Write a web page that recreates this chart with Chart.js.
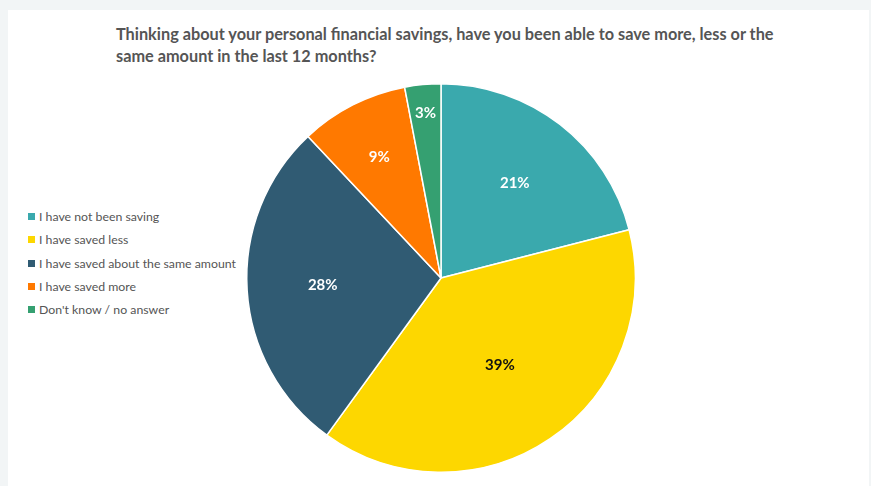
<!DOCTYPE html>
<html>
<head>
<meta charset="utf-8">
<script src="https://cdn.jsdelivr.net/npm/chart.js@4"></script>
<style>
    body { margin: 0; background: #f2f5f6; width: 871px; height: 486px; overflow: hidden; font-family: Lato, "Open Sans", sans-serif; }
    .card { position: absolute; left: 8px; top: 10px; width: 861px; height: 480px; background: #fff; }
    .title { position: absolute; left: 116px; top: 23px; width: 680px; font-size: 16.3px; font-weight: bold; color: #555; line-height: 22px; }
    .legend { position: absolute; left: 28px; top: 208px; font-size: 12.3px; color: #555; }
    .legend div { height: 23.3px; line-height: 18px; white-space: nowrap; }
    .legend span { display: inline-block; width: 7px; height: 7px; margin-right: 4px; vertical-align: 1px; }
    #chartWrap { position: absolute; left: 241px; top: 78px; width: 400px; height: 400px; }
</style>
</head>
<body>
<div class="card"></div>
<div class="title">Thinking about your personal financial savings, have you been able to save more, less or the same amount in the last 12 months?</div>
<div class="legend" id="legend"></div>
<div id="chartWrap"><canvas id="savingsChart"></canvas></div>
<script>
const categories = ['I have not been saving', 'I have saved less', 'I have saved about the same amount', 'I have saved more', "Don't know / no answer"];
const shares = [21, 39, 28, 9, 3];
const colors = ['#3aa9ad', '#fdd700', '#305b73', '#ff7900', '#35a071'];
const labelColors = ['#fff', '#111', '#fff', '#fff', '#fff'];
// how far out along the radius each percentage sits
const labelRadius = [0.62, 0.54, 0.61, 0.70, 0.85];

// Legend
const legend = document.getElementById('legend');
categories.forEach((name, i) => {
    legend.innerHTML += `<div><span style="background:${colors[i]}"></span>${name}</div>`;
});

// Percent labels inside the slices
const sliceLabels = {
    id: 'sliceLabels',
    afterDatasetsDraw(chart) {
        const ctx = chart.ctx;
        const meta = chart.getDatasetMeta(0);
        ctx.save();
        ctx.font = 'bold 15px Lato, "Open Sans", sans-serif';
        ctx.textAlign = 'center';
        ctx.textBaseline = 'middle';
        meta.data.forEach((arc, i) => {
            const mid = (arc.startAngle + arc.endAngle) / 2;
            const r = arc.outerRadius * labelRadius[i];
            ctx.fillStyle = labelColors[i];
            ctx.fillText(shares[i] + '%', arc.x + Math.cos(mid) * r, arc.y + Math.sin(mid) * r);
        });
        ctx.restore();
    }
};

const ctx = document.getElementById('savingsChart').getContext('2d');
new Chart(ctx, {
    type: 'pie',
    data: {
        labels: categories,
        datasets: [{
            data: shares,
            backgroundColor: colors,
            borderColor: '#fff',
            borderWidth: 1.5,
        }],
    },
    options: {
        responsive: true,
        maintainAspectRatio: false,
        animation: false,
        layout: { padding: 5 },
        plugins: {
            legend: { display: false },
            tooltip: { enabled: false },
        },
    },
    plugins: [sliceLabels],
});
</script>
</body>
</html>
